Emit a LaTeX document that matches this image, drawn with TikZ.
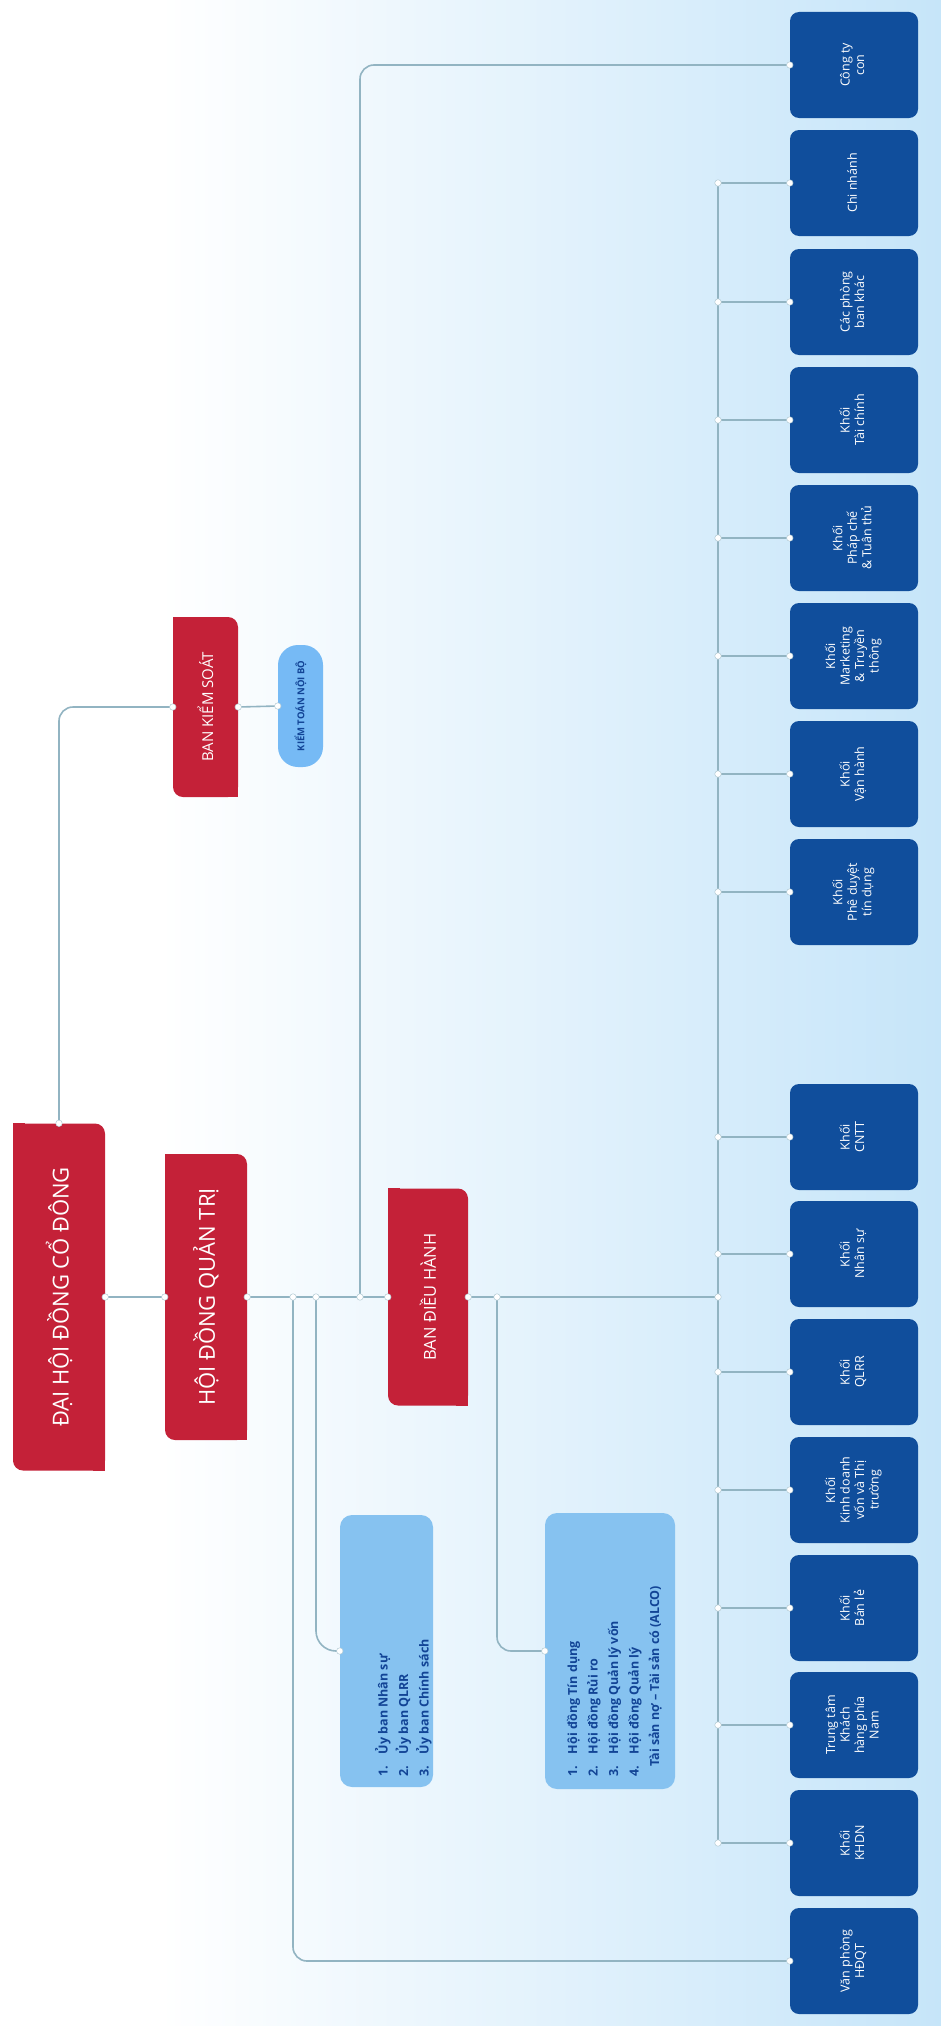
\documentclass[tikz,border=0pt]{standalone}
\usepackage{fontspec}
\setmainfont{Open Sans}
\usetikzlibrary{calc}
\definecolor{redbox}{RGB}{196,33,56}
\definecolor{navy}{RGB}{16,78,156}
\definecolor{lightbox}{RGB}{134,194,240}
\definecolor{pillblue}{RGB}{118,186,245}
\definecolor{listtext}{RGB}{18,68,150}
\definecolor{conn}{RGB}{146,180,194}
\definecolor{bgblue}{RGB}{198,229,249}
\tikzset{
  redb/.style={fill=redbox, draw=none, rounded corners=10pt, inner sep=0pt, text=white},
  navyb/.style={fill=navy, draw=none, rounded corners=9pt, inner sep=0pt, text=white,
    minimum width=128pt, minimum height=106pt, font=\fontsize{12.5}{14.5}\selectfont},
  lightb/.style={fill=lightbox, draw=none, rounded corners=12pt, inner sep=0pt},
  conn/.style={draw=conn, line width=1.6pt},
  dot/.style={circle, fill=white, draw=conn!70!white, line width=0.5pt, inner sep=0pt, minimum size=6.5pt},
  listtxt/.style={inner sep=0pt, text=listtext, font=\bfseries\fontsize{12.5}{20.5}\selectfont},
}
\newcommand{\rtx}[1]{\rotatebox{90}{\begin{tabular}{@{}c@{}}#1\end{tabular}}}
\newcommand{\sharpc}[1]{\fill[redbox] (#1.north west) rectangle ++(12,12); \fill[redbox] (#1.south east) rectangle ++(-12,-12);}
\begin{document}
\begin{tikzpicture}[x=1pt,y=-1pt]
\useasboundingbox (0,0) rectangle (941,2026);
% background
\fill[white] (0,0) rectangle (941,2026);
\shade[left color=white, right color=bgblue] (160,0) rectangle (941,2026);

% red boxes
\node[redb, minimum width=92pt, minimum height=347pt] (dhdcd) at (59,1297) {\rotatebox{90}{\fontsize{22}{26}\selectfont ĐẠI HỘI ĐỒNG CỔ ĐÔNG}};
\sharpc{dhdcd}
\node[redb, minimum width=82pt, minimum height=286pt] (hdqt) at (206,1297) {\rotatebox{90}{\fontsize{22}{26}\selectfont HỘI ĐỒNG QUẢN TRỊ}};
\sharpc{hdqt}
\node[redb, minimum width=80pt, minimum height=217pt] (bdh) at (428,1297) {\rotatebox{90}{\fontsize{16.5}{20}\selectfont BAN ĐIỀU HÀNH}};
\sharpc{bdh}
\node[redb, minimum width=65pt, minimum height=180pt] (bks) at (205.5,707) {\rotatebox{90}{\fontsize{15}{18}\selectfont BAN KIỂM SOÁT}};
\sharpc{bks}
\node[fill=pillblue, draw=none, rounded corners=20pt, inner sep=0pt, minimum width=45pt, minimum height=122pt, text=listtext] (pill) at (300.5,706) {\rotatebox{90}{\bfseries\fontsize{9.5}{11}\selectfont KIỂM TOÁN NỘI BỘ}};

% light blue list boxes
\node[lightb, minimum width=93pt, minimum height=272pt] (ub) at (386.5,1651) {};
\node[listtxt, anchor=south] (ubtxt) at (404,1777) {\rotatebox{90}{\begin{tabular}{@{}l@{}}1.\hspace{12pt}Ủy ban Nhân sự\\2.\hspace{12pt}Ủy ban QLRR\\3.\hspace{12pt}Ủy ban Chính sách\end{tabular}}};
\node[lightb, minimum width=130pt, minimum height=276pt] (hd) at (610,1651) {};
\node[listtxt, anchor=south] (hdtxt) at (614,1777) {\rotatebox{90}{\begin{tabular}{@{}l@{}}1.\hspace{12pt}Hội đồng Tín dụng\\2.\hspace{12pt}Hội đồng Rủi ro\\3.\hspace{12pt}Hội đồng Quản lý vốn\\4.\hspace{12pt}Hội đồng Quản lý\\\hspace*{10pt}Tài sản nợ – Tài sản có (ALCO)\end{tabular}}};

% navy boxes
\node[navyb] (cty) at (854,65) {\rtx{Công ty\\con}};
\node[navyb] (cn) at (854,183) {\rtx{Chi nhánh}};
\node[navyb] (cpb) at (854,302) {\rtx{Các phòng\\ban khác}};
\node[navyb] (tc) at (854,420) {\rtx{Khối\\Tài chính}};
\node[navyb] (pc) at (854,538) {\rtx{Khối\\Pháp chế\\\& Tuân thủ}};
\node[navyb] (mk) at (854,656) {\rtx{Khối\\Marketing\\\& Truyền\\thông}};
\node[navyb] (vh) at (854,774) {\rtx{Khối\\Vận hành}};
\node[navyb] (pd) at (854,892) {\rtx{Khối\\Phê duyệt\\tín dụng}};
\node[navyb] (cntt) at (854,1137) {\rtx{Khối\\CNTT}};
\node[navyb] (ns) at (854,1254) {\rtx{Khối\\Nhân sự}};
\node[navyb] (qlrr) at (854,1372) {\rtx{Khối\\QLRR}};
\node[navyb] (kdv) at (854,1490) {\rtx{Khối\\Kinh doanh\\vốn và Thị\\trường}};
\node[navyb] (bl) at (854,1608) {\rtx{Khối\\Bán lẻ}};
\node[navyb] (ttn) at (854,1725) {\rtx{Trung tâm\\Khách\\hàng phía\\Nam}};
\node[navyb] (khdn) at (854,1843) {\rtx{Khối\\KHDN}};
\node[navyb] (vp) at (854,1961) {\rtx{Văn phòng\\HĐQT}};

% junction coordinates
\coordinate (j1) at (293,1297);
\coordinate (j2) at (316,1297);
\coordinate (j3) at (360,1297);
\coordinate (j4) at (497,1297);
\coordinate (jb) at (718,1297);
\foreach \n in {cn,cpb,tc,pc,mk,vh,pd,cntt,ns,qlrr,kdv,bl,ttn,khdn}{
  \path (jb |- \n.west) coordinate (b-\n);
}

% connectors
\draw[conn] (dhdcd.east) -- (hdqt.west);
\draw[conn] (hdqt.east) -- (bdh.west);
\draw[conn] (bdh.east) -- (jb);
\draw[conn, rounded corners=14pt] (dhdcd.north) |- (bks.west);
\draw[conn] (bks.east) -- (pill.west);
\draw[conn, rounded corners=14pt] (j1) |- (vp.west);
\draw[conn, rounded corners=20pt] (j2) |- (ub.west);
\draw[conn, rounded corners=14pt] (j3) |- (cty.west);
\draw[conn, rounded corners=14pt] (j4) |- (hd.west);
\draw[conn] (b-cn) -- (b-khdn);
\foreach \n in {cn,cpb,tc,pc,mk,vh,pd,cntt,ns,qlrr,kdv,bl,ttn,khdn}{
  \draw[conn] (b-\n) -- (\n.west);
}

% dots
\foreach \p in {dhdcd.east,hdqt.west,hdqt.east,j1,j2,j3,bdh.west,bdh.east,j4,jb,dhdcd.north,bks.west,bks.east,pill.west,ub.west,hd.west,cty.west,vp.west}{
  \node[dot] at (\p) {};
}
\foreach \n in {cn,cpb,tc,pc,mk,vh,pd,cntt,ns,qlrr,kdv,bl,ttn,khdn}{
  \node[dot] at (b-\n) {};
  \node[dot] at (\n.west) {};
}
\end{tikzpicture}
\end{document}
